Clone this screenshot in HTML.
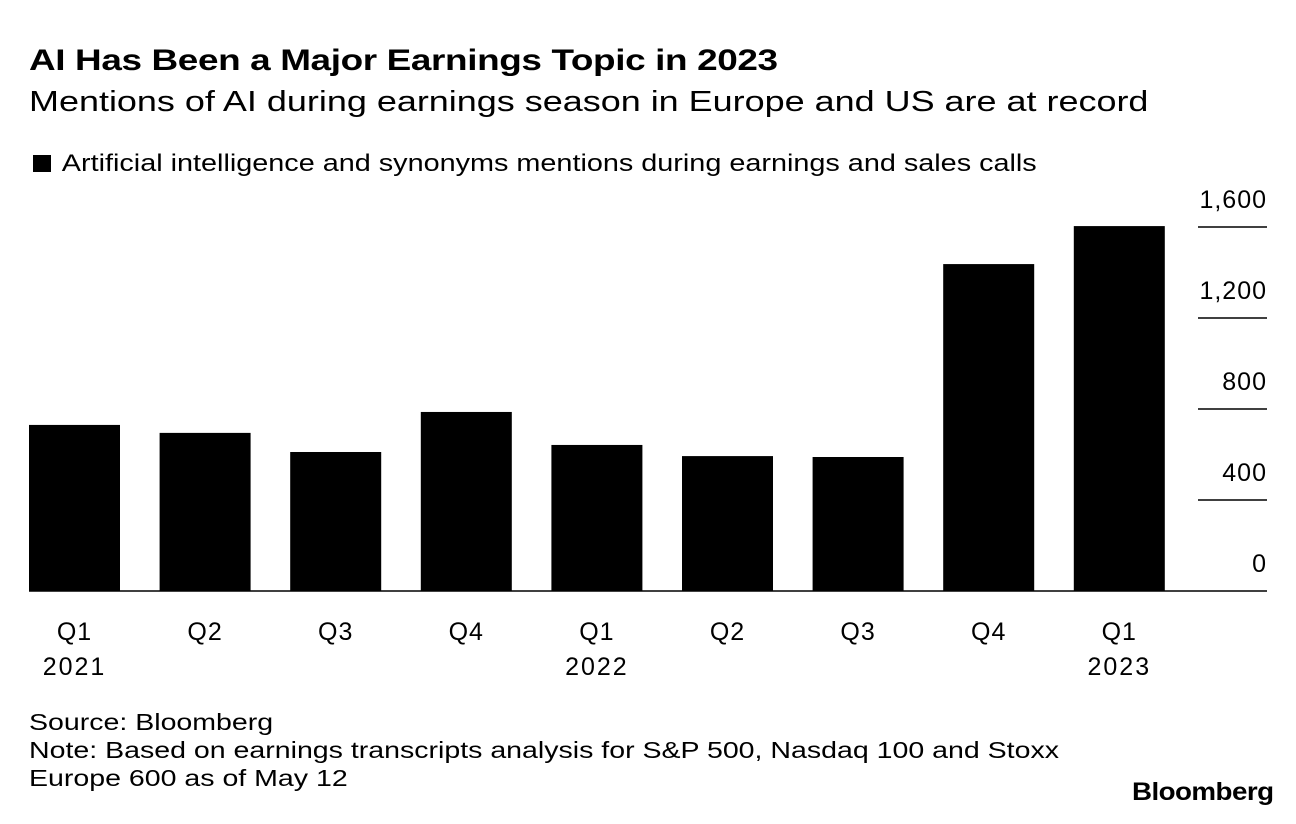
<!DOCTYPE html>
<html><head><meta charset="utf-8"><style>
body{margin:0;background:#fff;font-family:"Liberation Sans",sans-serif;color:#000}
#wrap{position:relative;width:1296px;height:824px;overflow:hidden}
.t{position:absolute;white-space:nowrap;transform-origin:0 0}
</style></head><body>
<div id="wrap">
<div class="t" style="left:29px;top:44px;font-size:30px;font-weight:bold;letter-spacing:-0.3px;transform:scaleX(1.23)">AI Has Been a Major Earnings Topic in 2023</div>
<div class="t" style="left:29px;top:86px;font-size:29px;transform:scaleX(1.24)">Mentions of AI during earnings season in Europe and US are at record</div>
<div class="t" style="left:33px;top:150px;font-size:24px;transform:scaleX(1.2)"><span style="display:inline-block;width:15px;height:17px;background:#000;margin-right:9px;vertical-align:-1px"></span>Artificial intelligence and synonyms mentions during earnings and sales calls</div>
<svg id="chart" width="1296" height="824" style="position:absolute;left:0;top:0"></svg>
<div class="t" style="left:29px;top:708px;font-size:23px;line-height:28px;transform:scaleX(1.24)">Source: Bloomberg<br>Note: Based on earnings transcripts analysis for S&amp;P 500, Nasdaq 100 and Stoxx<br>Europe 600 as of May 12</div>
<div class="t" style="left:1132px;top:778px;font-size:25px;font-weight:bold;letter-spacing:-0.5px;transform:scaleX(1.11)">Bloomberg</div>
</div>
<script>
const quarters=["Q1","Q2","Q3","Q4","Q1","Q2","Q3","Q4","Q1"];
const years=["2021","","","","2022","","","","2023"];
const values=[730,695,611,787,642,593,589,1437,1604];
const ticks=[0,400,800,1200,1600];
const tickLabels=["0","400","800","1,200","1,600"];
const svg=document.getElementById('chart');
const NS="http://www.w3.org/2000/svg";
const y0=591,pxPer=91/400;
const y=v=>y0-v*pxPer;
const x0=29,step=130.6,bw=91;
function mk(t,a){const e=document.createElementNS(NS,t);for(const k in a)e.setAttribute(k,a[k]);svg.appendChild(e);return e;}
ticks.forEach((v,i)=>{
  if(v>0){const l=mk('line',{x1:1198,x2:1267,y1:y(v),y2:y(v),stroke:'#000','stroke-width':1.5});
  
  }
  const t=mk('text',{x:1267,y:y(v)-19,'text-anchor':'end','font-size':25,'letter-spacing':1,'font-family':'Liberation Sans, sans-serif'});
  t.textContent=tickLabels[i];
  
  
});
values.forEach((v,i)=>{
  const r=mk('rect',{x:x0+i*step,y:y(v),width:bw,height:y0-y(v),fill:'#000'});
  
  
  const cx=x0+i*step+bw/2;
  const q=mk('text',{x:cx,y:640,'text-anchor':'middle','font-size':25,'letter-spacing':1,'font-family':'Liberation Sans, sans-serif'});
  q.textContent=quarters[i];
  
  
  if(years[i]){const yt=mk('text',{x:cx,y:675,'text-anchor':'middle','font-size':25,'letter-spacing':2,'font-family':'Liberation Sans, sans-serif'});
  yt.textContent=years[i];
  
  }
});
const b=mk('line',{x1:29,x2:1267,y1:y0,y2:y0,stroke:'#000','stroke-width':1.5});


</script>
</body></html>
